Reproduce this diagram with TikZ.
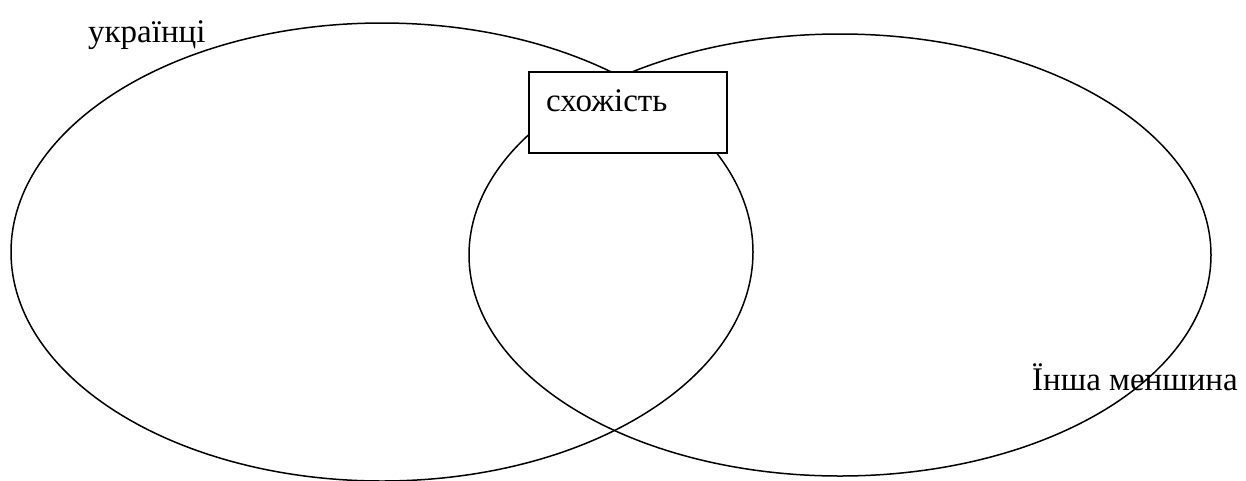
\documentclass[tikz,border=0pt]{standalone}
\usepackage{fontspec}
\setmainfont{Liberation Serif}
\begin{document}
\begin{tikzpicture}[x=1pt,y=-1pt,
  ring/.style={draw=black,line width=1.5pt},
  label/.style={inner sep=0pt,font=\fontsize{33}{38}\selectfont},
  boxnode/.style={draw=black,fill=white,line width=1.8pt,minimum width=198pt,minimum height=81pt,inner sep=0pt}]
\useasboundingbox (0,0) rectangle (1246,480);
\draw[ring] (382,252) ellipse [x radius=371, y radius=229];
\draw[ring] (840,255) ellipse [x radius=371, y radius=221];
\node[boxnode,anchor=north west] (box) at (528,71) {};
\node[label,anchor=base west] (sim) at (546,111) {схожість};
\node[label,anchor=base west] (ua) at (88,42) {українці};
\node[label,anchor=base west] (other) at (1032,390) {Їнша меншина};
\end{tikzpicture}
\end{document}
